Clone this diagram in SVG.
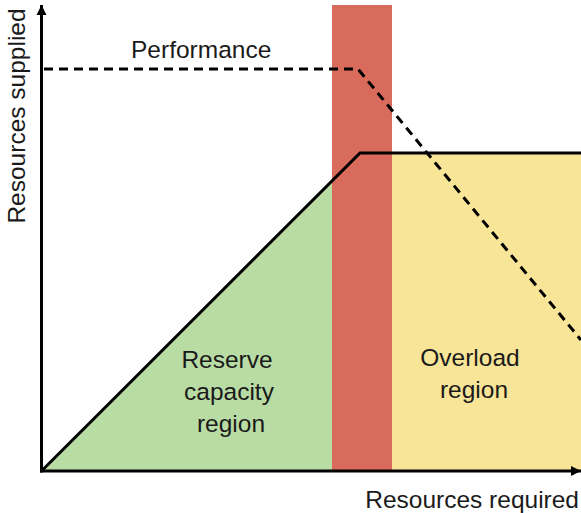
<svg xmlns="http://www.w3.org/2000/svg" width="581" height="513" viewBox="0 0 581 513">
  <style>
    text { font-family: "Liberation Sans", Arial, sans-serif; font-size: 24.5px; fill: #1a1a1a; }
    .mid { text-anchor: middle; }
    .axis { stroke: #000; stroke-width: 3; fill: none; }
    .curve { stroke: #000; stroke-width: 3; fill: none; stroke-linejoin: miter; }
    .dash { stroke: #000; stroke-width: 3; fill: none; stroke-dasharray: 9 6; }
  </style>
  <defs>
    <marker id="arrow" viewBox="0 0 10 10" refX="10" refY="5" markerWidth="3.4" markerHeight="4" orient="auto" markerUnits="strokeWidth">
      <path d="M0,0 L10,5 L0,10 Z" fill="#000"/>
    </marker>
  </defs>
  <rect width="581" height="513" fill="#fff"/>
  <g id="reserve-region">
    <polygon points="41.5,471 332,471 332,180.5" fill="#b9dca4"/>
    <text class="mid" x="227" y="368">Reserve</text>
    <text class="mid" x="229" y="400">capacity</text>
    <text class="mid" x="231" y="432">region</text>
  </g>
  <g id="overload-region">
    <rect x="392" y="153" width="189" height="318" fill="#f8e598"/>
    <text class="mid" x="470" y="366">Overload</text>
    <text class="mid" x="474" y="398">region</text>
  </g>
  <g id="critical-band">
    <rect x="332" y="5" width="60" height="466" fill="#d96b5c"/>
  </g>
  <g id="connectors">
    <path class="curve" d="M41.5,471 L360,153 L581,153"/>
    <path class="dash" d="M44,69 L358,69 L581,340"/>
    <line class="axis" x1="41.5" y1="472.5" x2="41.5" y2="5" marker-end="url(#arrow)"/>
    <line class="axis" x1="40" y1="471" x2="581" y2="471" marker-end="url(#arrow)"/>
  </g>
  <g id="labels">
    <text x="131" y="58">Performance</text>
    <text x="579" y="508" text-anchor="end">Resources required</text>
    <text class="mid" transform="translate(25,116) rotate(-90)">Resources supplied</text>
  </g>
</svg>
